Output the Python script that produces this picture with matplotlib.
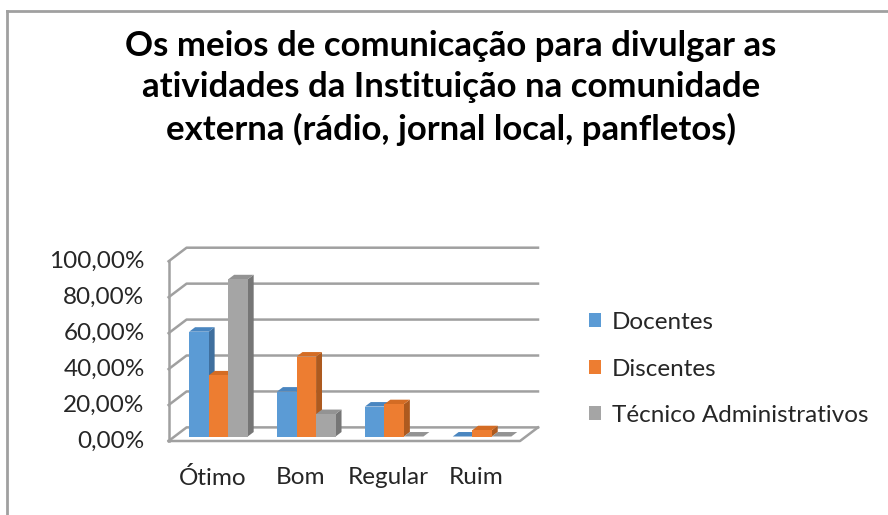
import matplotlib
matplotlib.use("Agg")
import matplotlib.pyplot as plt
from matplotlib.patches import Polygon, Patch
from matplotlib.lines import Line2D

plt.rcParams['font.family'] = ['Lato', 'DejaVu Sans']

# ---- data ----
categories = ["Ótimo", "Bom", "Regular", "Ruim"]
series_names = ["Docentes", "Discentes", "Técnico Administrativos"]
docentes = [58.33, 25.0, 16.67, 0.0]
discentes = [34.0, 44.5, 18.0, 3.5]
tecnicos = [87.5, 12.5, 0.0, 0.0]
y_ticks = [0, 20, 40, 60, 80, 100]
y_tick_labels = ["0,00%", "20,00%", "40,00%", "60,00%", "80,00%", "100,00%"]
title = "Os meios de comunicação para divulgar as\natividades da Instituição na comunidade\nexterna (rádio, jornal local, panfletos)"

values = [docentes, discentes, tecnicos]
front_cols = ["#5B9BD5", "#ED7D31", "#A5A5A5"]
top_cols = ["#4A86C0", "#D46C24", "#939393"]
side_cols = ["#3F6F9E", "#AD5A1F", "#767676"]

W, H = 888, 515
fig = plt.figure(figsize=(W / 100, H / 100), dpi=100)

# axes placement (pixels)
ax_l, ax_r, ax_b, ax_t = 168.6, 538.0, 441.0, 247.7
ax = fig.add_axes([ax_l / W, 1 - ax_b / H, (ax_r - ax_l) / W, (ax_b - ax_t) / H])

n = len(categories)
DX = 18.0 / 88.0          # depth offset in category units
DY = 13.6 / 1.796         # depth offset in percent units
ax.set_xlim(-0.5, n - 0.5 + DX)
ax.set_ylim(0, 100 + DY)
ax.axis("off")

def P(x, y, d):
    return (x + d * DX, y + d * DY)

grid_c = "#A0A0A0"
lw = 1.8
# left wall front edge
ax.add_line(Line2D([-0.5, -0.5], [0, 100], color=grid_c, lw=lw, zorder=1, clip_on=False))
for g in y_ticks:
    x0, y0 = P(-0.5, g, 0)
    x1, y1 = P(-0.5, g, 1)
    x2, y2 = P(n - 0.5, g, 1)
    ax.add_line(Line2D([x0, x1, x2], [y0, y1, y2], color=grid_c, lw=lw, zorder=1, clip_on=False))
# floor front edge + right edge
fx = [-0.5, n - 0.5, P(n - 0.5, 0, 1)[0]]
fy = [0, 0, P(n - 0.5, 0, 1)[1]]
ax.add_line(Line2D(fx, fy, color=grid_c, lw=lw, zorder=1, clip_on=False))

# bars
nser = len(values)
bw = 1.0 / (nser + 1.5)
d0, d1 = 0.33, 0.66
z = 2
for i in range(n):
    for j in range(nser):
        v = values[j][i]
        xl = i - nser * bw / 2 + j * bw
        xr = xl + bw
        side = [P(xr, 0, d0), P(xr, 0, d1), P(xr, v, d1), P(xr, v, d0)]
        top = [P(xl, v, d0), P(xr, v, d0), P(xr, v, d1), P(xl, v, d1)]
        ax.add_patch(Polygon(side, closed=True, facecolor=side_cols[j], edgecolor="none", zorder=z, clip_on=False))
        ax.add_patch(Polygon(top, closed=True, facecolor=top_cols[j], edgecolor="none", zorder=z + 0.1, clip_on=False))
        fxl, fyb = P(xl, 0, d0)
        ax.bar(fxl, v, width=bw, bottom=fyb, align="edge", color=front_cols[j],
               edgecolor="none", zorder=z + 0.2, clip_on=False)
        z += 1

# tick labels (axis text)
for g, lab in zip(y_ticks, y_tick_labels):
    ax.annotate(lab, xy=(-0.5, g), xycoords="data", xytext=(-24, 0), textcoords="offset pixels",
                ha="right", va="center", fontsize=17.5, color="#262626")
for i, c in enumerate(categories):
    ax.annotate(c, xy=(i, 0), xycoords="data", xytext=(0, -37), textcoords="offset pixels",
                ha="center", va="center", fontsize=17.5, color="#262626")

# title
fig.text(451 / W, 1 - 88 / H, title, ha="center", va="center", fontsize=25,
         fontweight="bold", linespacing=1.35, color="#000000")

# legend
handles = [Patch(facecolor=c, edgecolor="none") for c in front_cols]
fig.legend(handles, series_names, loc="center left", bbox_to_anchor=(579 / W, 1 - 369 / H),
           frameon=False, fontsize=17.5, handlelength=0.5, handleheight=0.5,
           handletextpad=0.45, labelspacing=1.05, borderaxespad=0, labelcolor="#262626")

# outer frame (top and left)
fig.add_artist(Line2D([6.5 / W, 1], [1 - 10.5 / H, 1 - 10.5 / H], transform=fig.transFigure,
                      color="#A0A0A0", lw=2))
fig.add_artist(Line2D([6.5 / W, 6.5 / W], [0, 1 - 10.5 / H], transform=fig.transFigure,
                      color="#A0A0A0", lw=2))

fig.savefig("out.png", dpi=100, facecolor="white")
